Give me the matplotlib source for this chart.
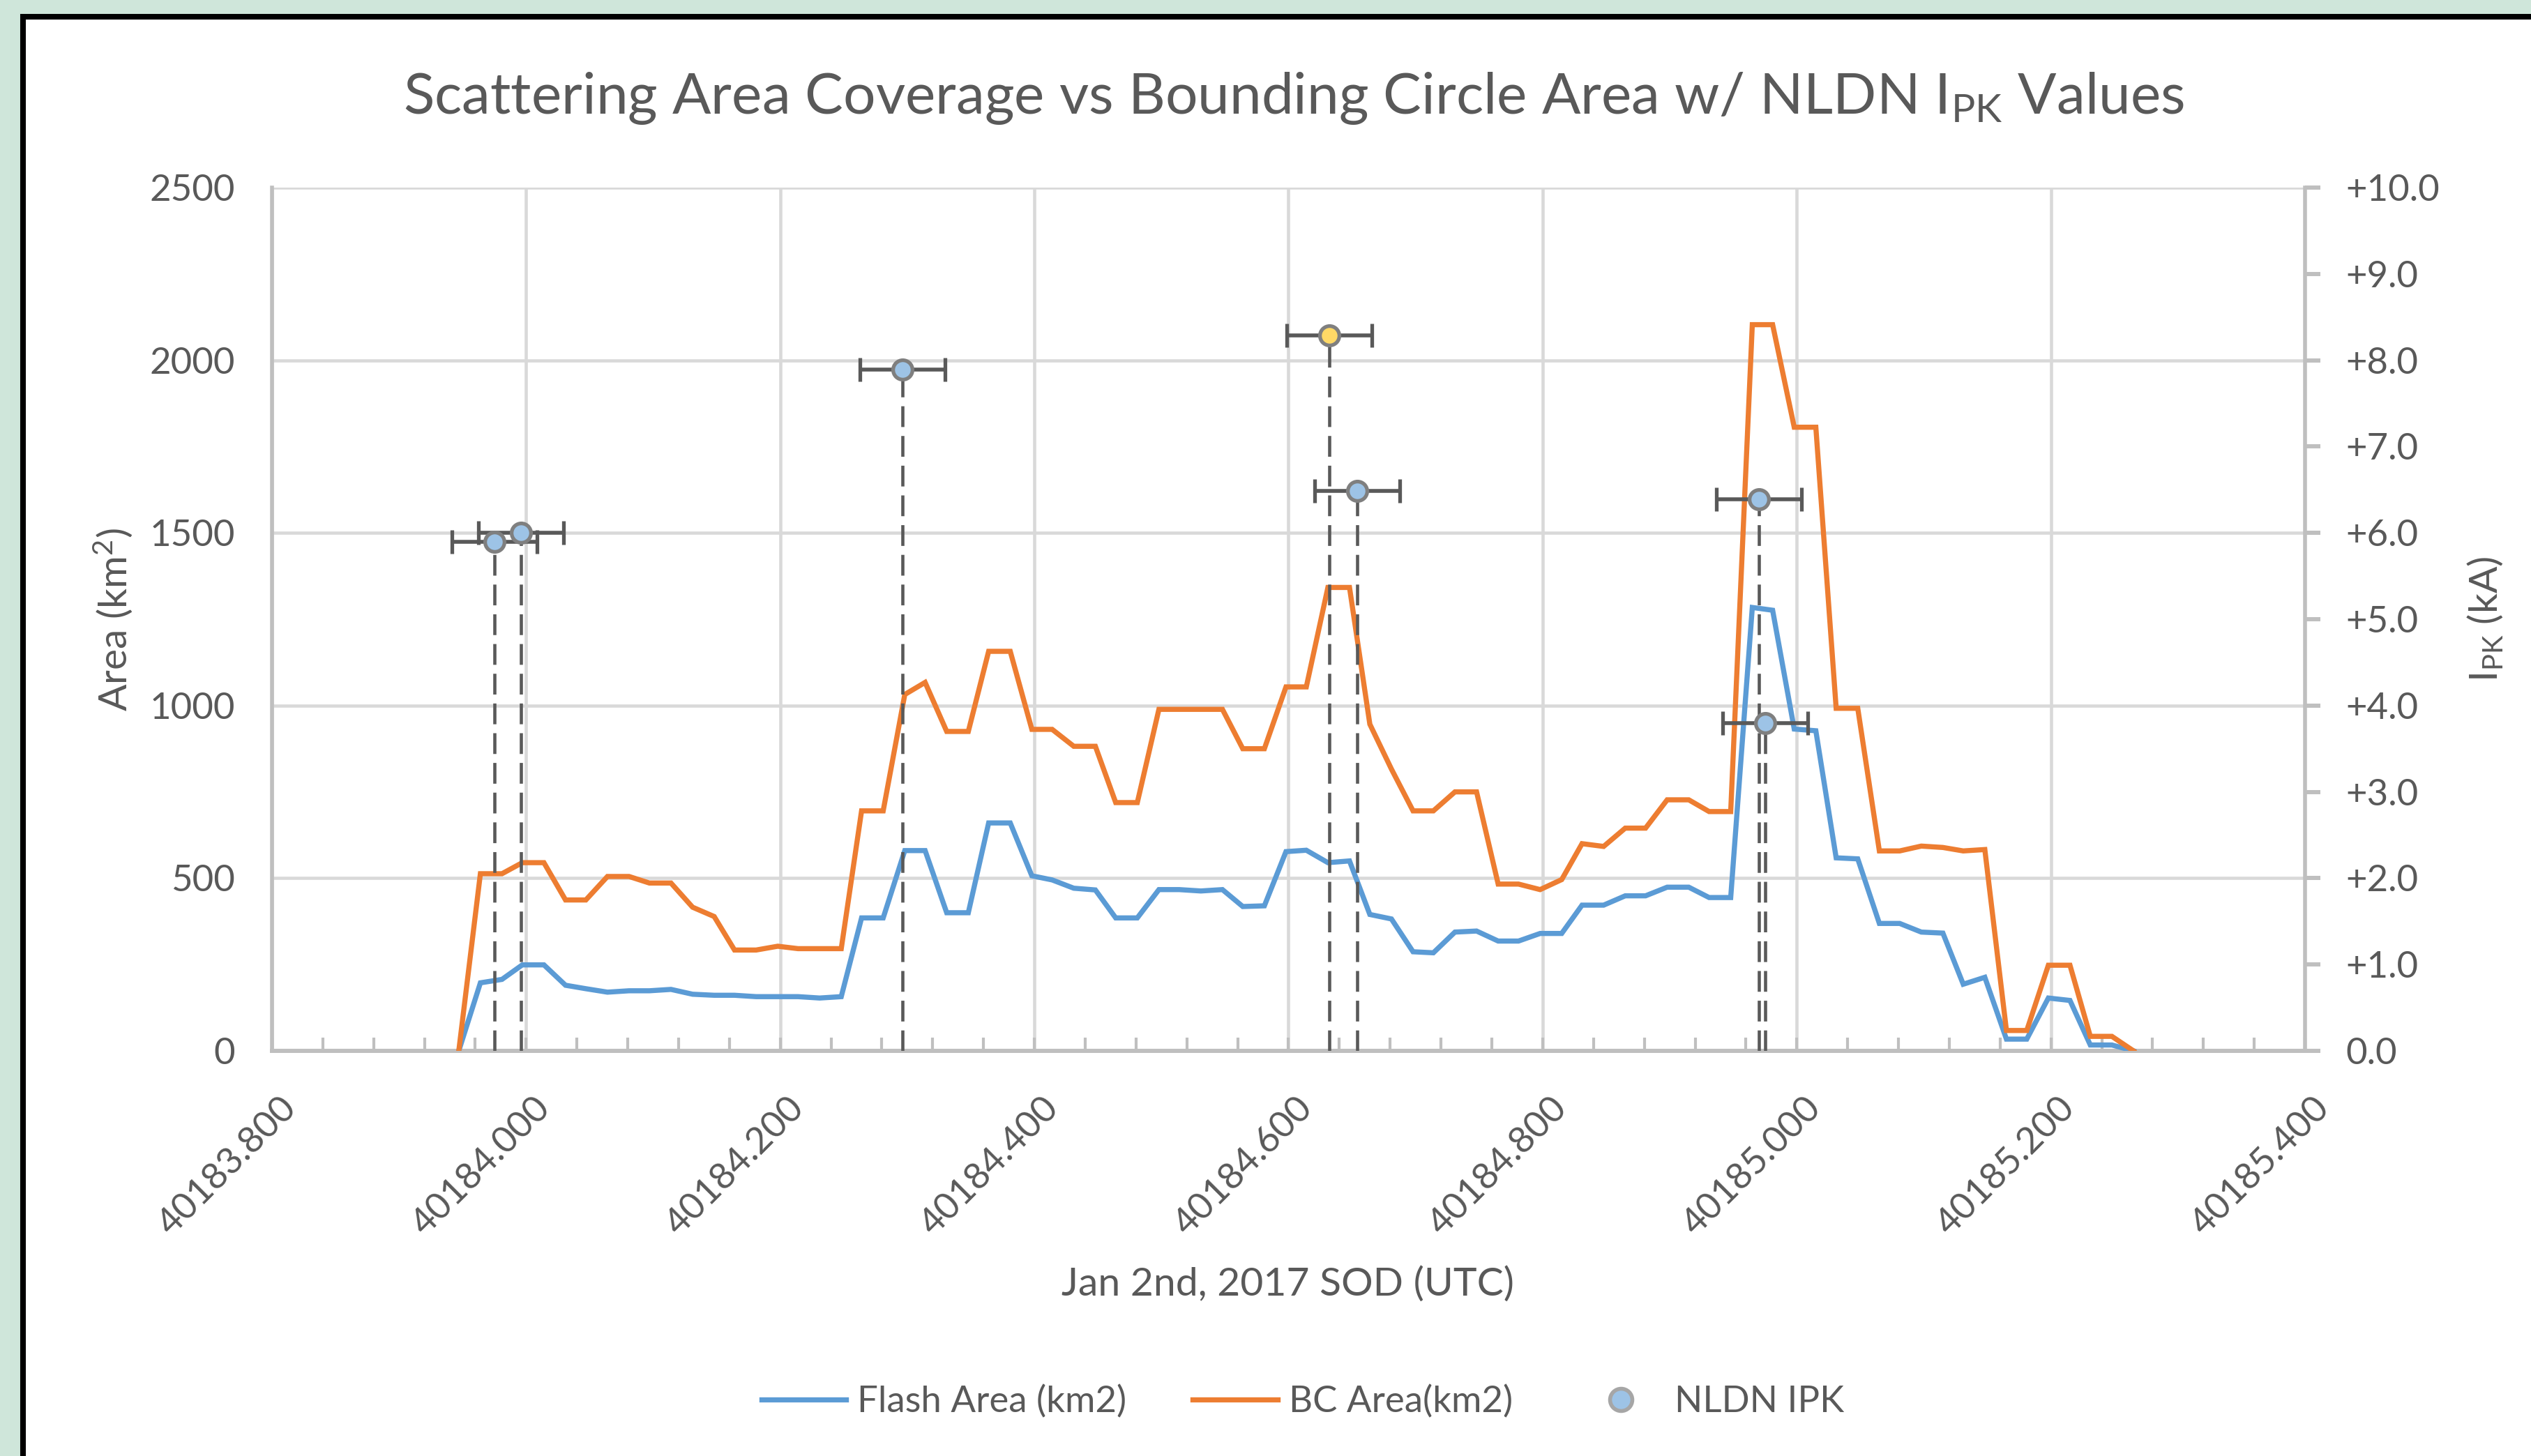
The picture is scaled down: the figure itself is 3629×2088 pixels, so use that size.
import matplotlib
matplotlib.use('Agg')
import matplotlib.pyplot as plt
from matplotlib.lines import Line2D
from matplotlib.patches import Rectangle
from matplotlib.ticker import MultipleLocator, FuncFormatter
import matplotlib.transforms as mtransforms

plt.rcParams['font.family'] = ['Lato', 'DejaVu Sans']
plt.rcParams['mathtext.default'] = 'regular'

# seconds of day for each frame
sod = [40183.947, 40183.964, 40183.981, 40183.997, 40184.014, 40184.031, 40184.047, 40184.064,
       40184.081, 40184.097, 40184.114, 40184.131, 40184.148, 40184.164, 40184.181, 40184.198,
       40184.214, 40184.231, 40184.248, 40184.264, 40184.281, 40184.298, 40184.314, 40184.331,
       40184.348, 40184.364, 40184.381, 40184.398, 40184.414, 40184.431, 40184.448, 40184.464,
       40184.481, 40184.498, 40184.514, 40184.531, 40184.548, 40184.564, 40184.581, 40184.598,
       40184.614, 40184.631, 40184.648, 40184.664, 40184.681, 40184.698, 40184.714, 40184.731,
       40184.748, 40184.765, 40184.781, 40184.798, 40184.815, 40184.831, 40184.848, 40184.865,
       40184.881, 40184.898, 40184.915, 40184.931, 40184.948, 40184.965, 40184.981, 40184.998,
       40185.015, 40185.031, 40185.048, 40185.065, 40185.081, 40185.098, 40185.115, 40185.131,
       40185.148, 40185.165, 40185.181, 40185.198, 40185.215, 40185.231, 40185.248, 40185.265]

flash_area = [0, 197, 207, 249, 249, 190, 180, 170, 174, 174, 178, 164, 161, 161, 157, 157,
              157, 153, 157, 385, 385, 580, 580, 400, 400, 660, 660, 507, 495, 471, 466, 385,
              385, 467, 467, 463, 467, 418, 420, 577, 581, 545, 550, 395, 382, 287, 284, 344,
              347, 318, 318, 340, 340, 422, 422, 449, 449, 474, 474, 444, 444, 1284, 1276, 932,
              927, 559, 556, 369, 369, 344, 341, 193, 213, 34, 34, 153, 146, 17, 17, 0]

bc_area = [0, 513, 513, 545, 545, 437, 437, 505, 505, 486, 486, 416, 389, 292, 292, 303,
           296, 296, 296, 695, 695, 1032, 1067, 925, 925, 1157, 1157, 931, 931, 882, 882, 719,
           719, 989, 989, 989, 989, 875, 875, 1054, 1054, 1342, 1342, 946, 816, 695, 695, 750,
           750, 483, 483, 467, 496, 600, 592, 645, 645, 727, 727, 693, 693, 2103, 2103, 1806,
           1806, 992, 992, 579, 579, 593, 589, 579, 583, 59, 59, 248, 248, 42, 42, 0]

# NLDN strokes (kA), the highlighted one is drawn yellow
nldn_sod = [40183.975, 40183.996, 40184.296, 40184.632, 40184.654, 40184.970, 40184.975]
nldn_ipk = [5.90, 6.00, 7.89, 8.29, 6.49, 6.39, 3.80]
nldn_err = 0.0335
highlight = 3

xticks = [40183.8, 40184.0, 40184.2, 40184.4, 40184.6, 40184.8, 40185.0, 40185.2, 40185.4]

TXT = '#595959'
BLUE = '#5B9BD5'
ORANGE = '#ED7D31'
GRID = '#D9D9D9'
AXC = '#BFBFBF'
LW = 5.3

fig = plt.figure(figsize=(36.3, 20.88), dpi=100, facecolor='#CFE6DA')
fig.patches.append(Rectangle((33 / 3630, -0.1), 1.2, 1.1 - 24 / 2088, transform=fig.transFigure,
                             facecolor='white', edgecolor='black', lw=5.8, zorder=-10))

ax = fig.add_axes([390 / 3630, 1 - 1507 / 2088, 2915 / 3630, 1238 / 2088])
ax.set_facecolor('none')
ax.plot(sod, flash_area, color=BLUE, lw=LW, solid_joinstyle='miter', zorder=3)
ax.plot(sod, bc_area, color=ORANGE, lw=LW, solid_joinstyle='miter', zorder=3)

ax.set_xlim(40183.8, 40185.4)
ax.set_ylim(0, 2500)
ax.set_xticks(xticks)
ax.set_xticklabels(['%.3f' % v for v in xticks])
ax.xaxis.set_minor_locator(MultipleLocator(0.04))
ax.yaxis.set_major_locator(MultipleLocator(500))
ax.grid(True, which='major', color=GRID, lw=3.3, zorder=0)
ax.set_axisbelow(True)
for s in ['top', 'right']:
    ax.spines[s].set_visible(False)
ax.spines['left'].set_color(AXC)
ax.spines['left'].set_linewidth(4)
ax.spines['bottom'].set_color(AXC)
ax.spines['bottom'].set_linewidth(4.3)
ax.tick_params(axis='y', length=0, pad=38, labelsize=38, labelcolor=TXT)
ax.tick_params(axis='x', which='both', direction='in', length=14, width=3, color=AXC,
               pad=42, labelsize=38, labelcolor=TXT)
off = mtransforms.ScaledTranslation(10 / 100, 0, fig.dpi_scale_trans)
for lab in ax.get_xticklabels():
    lab.set_rotation(45)
    lab.set_ha('right')
    lab.set_va('top')
    lab.set_rotation_mode('anchor')
    lab.set_transform(lab.get_transform() + off)

ax2 = ax.twinx()
ax2.set_ylim(0, 10)
ax2.yaxis.set_major_locator(MultipleLocator(1))
ax2.yaxis.set_major_formatter(FuncFormatter(lambda v, p: '0.0' if v == 0 else '+%.1f' % v))
for s in ['top', 'left', 'bottom']:
    ax2.spines[s].set_visible(False)
ax2.spines['right'].set_color(AXC)
ax2.spines['right'].set_linewidth(4)
ax2.tick_params(axis='y', direction='out', length=16, width=4.3, color=AXC, pad=26,
                labelsize=38, labelcolor=TXT)

# dashed drop lines from each stroke to the axis
ax2.vlines(nldn_sod, 0, nldn_ipk, colors='#595959', lw=3.3, linestyles=(0, (6.5, 2.8)), zorder=4)
for i in range(len(nldn_sod)):
    fc = '#FFD966' if i == highlight else '#9DC3E6'
    ax2.errorbar(nldn_sod[i], nldn_ipk[i], xerr=nldn_err, fmt='o', ms=20, mfc=fc, mec='#7F7F7F',
                 mew=3.8, ecolor='#595959', elinewidth=4, capsize=12, capthick=4, zorder=5)

fig.text(1855 / 3630, 1 - 163 / 2088,
         'Scattering Area Coverage vs Bounding Circle Area w/ NLDN I$_{PK}$ Values',
         ha='center', va='baseline', fontsize=59, color=TXT)
fig.text(162 / 3630, 1 - 888 / 2088, 'Area (km$^{2}$)', rotation=90, ha='center', va='center',
         fontsize=41, color=TXT)
fig.text(3564 / 3630, 1 - 888 / 2088, 'I$_{PK}$ (kA)', rotation=90, ha='center', va='center',
         fontsize=41, color=TXT)
fig.text(1847 / 3630, 1 - 1858 / 2088, 'Jan 2nd, 2017 SOD (UTC)', ha='center', va='baseline',
         fontsize=41, color=TXT)

handles = [Line2D([], [], color=BLUE, lw=LW),
           Line2D([], [], color=ORANGE, lw=LW),
           Line2D([], [], ls='none', marker='o', ms=23, mfc='#9DC3E6', mec='#A6A6A6', mew=4)]
fig.legend(handles, ['Flash Area (km2)', 'BC Area(km2)', 'NLDN IPK'], loc='center',
           bbox_to_anchor=(1868 / 3630, 1 - 2010 / 2088), ncol=3, frameon=False, fontsize=38,
           labelcolor=TXT, handlelength=2.3, handletextpad=0.3, columnspacing=1.8)

fig.savefig('out.png', dpi=100, facecolor=fig.get_facecolor())
